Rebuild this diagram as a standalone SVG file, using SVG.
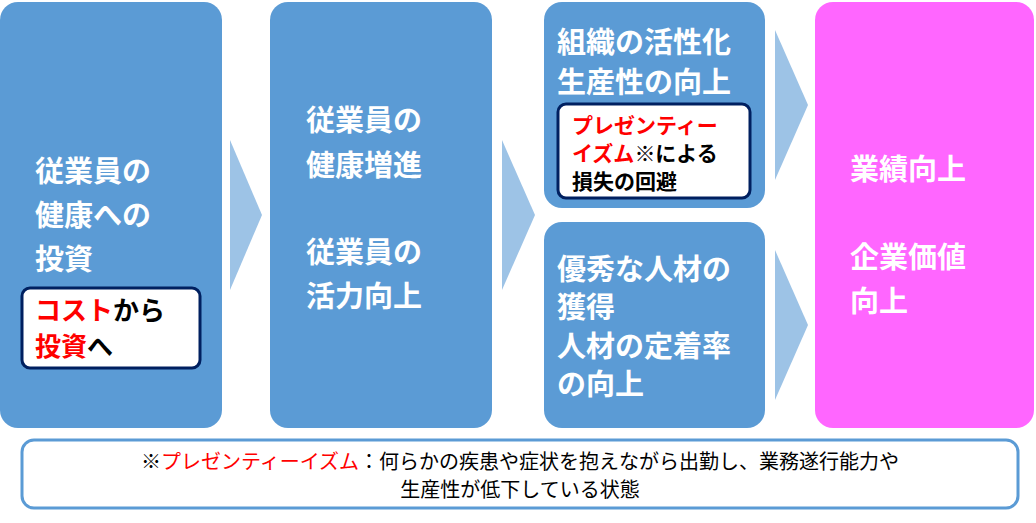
<svg xmlns="http://www.w3.org/2000/svg" width="1036" height="523" viewBox="0 0 1036 523">
<style>
.b{fill:#5b9bd5}
.a{fill:#9dc3e6}
.t{font-family:"Noto Sans CJK JP",sans-serif;font-weight:bold;fill:#fff;font-size:29px}
.i{fill:#fff;stroke:#002060;stroke-width:3}
.k{font-family:"Noto Sans CJK JP",sans-serif;font-weight:bold;fill:#000}
.r{fill:#ff0000}
.n{font-family:"Noto Sans CJK JP",sans-serif;font-size:20px;fill:#000}
</style>
<rect width="1036" height="523" fill="#fff"/>
<g id="conn">
<polygon class="a" points="230,140 262,215 230,290"/>
<polygon class="a" points="502,140 535,215 502,290"/>
<polygon class="a" points="775,30 808,105 775,180"/>
<polygon class="a" points="775,250 808,325 775,400"/>
</g>
<g id="n1">
<rect class="b" x="0" y="2" width="222" height="426" rx="18"/>
<text class="t" x="35" y="182">従業員の</text>
<text class="t" x="35" y="226">健康への</text>
<text class="t" x="35" y="270">投資</text>
<rect class="i" x="22" y="288" width="178" height="80" rx="8"/>
<text class="k" x="35" y="320" font-size="26"><tspan class="r">コスト</tspan>から</text>
<text class="k" x="35" y="356" font-size="26"><tspan class="r">投資</tspan>へ</text>
</g>
<g id="n2">
<rect class="b" x="270" y="2" width="222" height="426" rx="18"/>
<text class="t" x="306" y="131">従業員の</text>
<text class="t" x="306" y="176">健康増進</text>
<text class="t" x="306" y="263">従業員の</text>
<text class="t" x="306" y="307">活力向上</text>
</g>
<g id="n3">
<rect class="b" x="544" y="2" width="221" height="206" rx="18"/>
<text class="t" x="557" y="53">組織の活性化</text>
<text class="t" x="557" y="93">生産性の向上</text>
<rect class="i" x="558" y="104" width="192" height="94" rx="8"/>
<text class="k r" x="572" y="133" font-size="21">プレゼンティー</text>
<text class="k" x="572" y="161" font-size="21"><tspan class="r">イズム</tspan>※による</text>
<text class="k" x="572" y="189" font-size="21">損失の回避</text>
</g>
<g id="n4">
<rect class="b" x="544" y="222" width="221" height="206" rx="18"/>
<text class="t" x="557" y="280">優秀な人材の</text>
<text class="t" x="557" y="318">獲得</text>
<text class="t" x="557" y="357">人材の定着率</text>
<text class="t" x="557" y="395">の向上</text>
</g>
<g id="n5">
<rect x="815" y="2" width="219" height="426" rx="18" fill="#ff66ff"/>
<text class="t" x="850" y="180">業績向上</text>
<text class="t" x="850" y="268">企業価値</text>
<text class="t" x="850" y="312">向上</text>
</g>
<g id="note">
<rect x="22" y="440" width="996" height="68" rx="12" fill="#fff" stroke="#5b9bd5" stroke-width="3"/>
<text class="n" x="520" y="469" text-anchor="middle">※<tspan fill="#ff0000">プレゼンティーイズム</tspan>：何らかの疾患や症状を抱えながら出勤し、業務遂行能力や</text>
<text class="n" x="520" y="497" text-anchor="middle">生産性が低下している状態</text>
</g>
</svg>
